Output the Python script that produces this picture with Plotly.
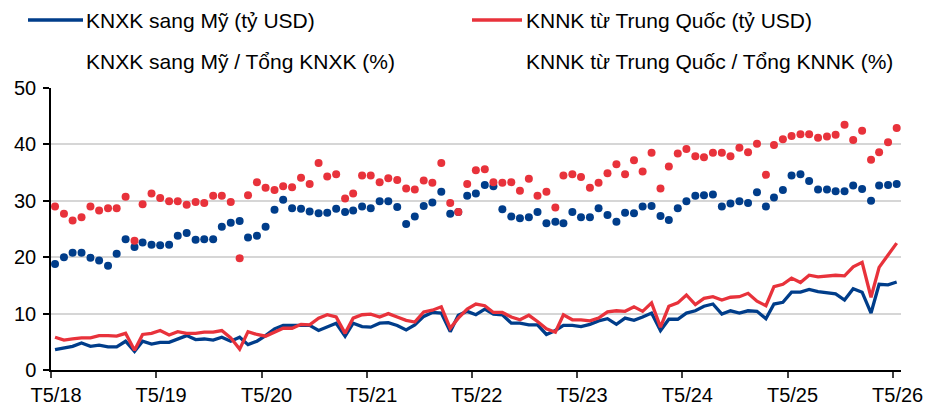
import pandas as pd
import plotly.graph_objects as go

# Monthly data, T5/2018 .. T5/2026
months = pd.date_range("2018-05-01", "2026-05-01", freq="MS") + pd.Timedelta(days=14)

# KNXK sang Mỹ (tỷ USD)
export_us = [3.6, 3.9, 4.2, 4.8, 4.2, 4.4, 4.1, 4.1, 5.1, 3.3, 5.1, 4.6, 4.9, 4.9,
             5.5, 6.1, 5.4, 5.5, 5.3, 5.8, 5.1, 5.8, 4.5, 5.1, 6.1, 7.3, 7.9,
             7.9, 7.9, 7.9, 7.0, 7.7, 8.3, 6.0, 8.3, 7.7, 7.6, 8.3, 8.4, 7.9, 7.1,
             8.0, 9.5, 10.2, 10.1, 6.8, 9.7, 10.4, 9.8, 10.8, 9.9, 9.8, 8.3, 8.3, 8.0,
             8.0, 6.3, 7.0, 7.9, 7.9, 7.7, 8.1, 8.7, 9.1, 8.1, 9.2, 8.8, 9.4, 10.1,
             7.0, 9.0, 9.0, 10.1, 10.5, 11.3, 11.7, 9.9, 10.5, 10.1, 10.5, 10.4, 9.1,
             11.7, 12.0, 13.8, 13.8, 14.3, 13.9, 13.7, 13.5, 12.4, 14.4, 13.8, 10.1, 15.2, 15.1, 15.6]

# KNNK từ Trung Quốc (tỷ USD)
import_cn = [5.8, 5.3, 5.5, 5.7, 5.7, 6.1, 6.1, 6.0, 6.5, 3.5, 6.3, 6.5, 7.0, 6.2,
             6.8, 6.5, 6.5, 6.7, 6.7, 7.0, 5.7, 3.7, 6.8, 6.3, 6.0, 6.7, 7.4,
             7.4, 8.1, 8.0, 9.2, 9.8, 9.4, 6.5, 9.2, 9.8, 9.9, 9.4, 10.0, 9.4, 8.8,
             8.5, 10.3, 10.6, 11.2, 7.4, 9.2, 10.8, 11.7, 11.4, 10.2, 10.2, 9.4, 8.9, 9.7,
             8.6, 7.3, 6.7, 9.8, 8.9, 8.9, 8.7, 9.2, 10.3, 10.5, 10.4, 11.2, 10.4, 11.9,
             7.6, 11.3, 11.9, 13.3, 11.6, 12.7, 13.0, 12.4, 12.9, 13.0, 13.6, 12.2, 11.4,
             14.8, 15.2, 16.3, 15.5, 16.8, 16.5, 16.6, 16.8, 16.7, 18.3, 19.1, 12.9, 18.2, 20.3, 22.5]

# KNXK sang Mỹ / Tổng KNXK (%)
export_us_share = [18.8, 20.0, 20.8, 20.8, 19.9, 19.4, 18.5, 20.6, 23.2, 21.8, 22.6, 22.2, 22.1, 22.2,
                   23.8, 24.3, 23.1, 23.2, 23.2, 25.4, 26.1, 26.4, 23.5, 23.8, 25.4, 28.4, 30.2,
                   28.7, 28.6, 28.1, 27.8, 27.9, 28.6, 28.0, 28.3, 29.0, 28.7, 29.9, 29.9, 28.9, 25.9,
                   27.2, 29.1, 29.7, 31.6, 27.7, 28.0, 30.9, 31.3, 32.8, 32.6, 28.5, 27.2, 26.9, 27.1,
                   28.0, 26.0, 26.3, 26.0, 28.0, 27.1, 27.1, 28.7, 27.5, 26.3, 27.9, 27.8, 29.0, 29.1,
                   27.3, 26.6, 28.7, 29.9, 30.9, 31.0, 31.1, 29.0, 29.5, 29.9, 29.6, 31.5, 29.0,
                   30.6, 31.9, 34.5, 34.7, 33.5, 32.0, 32.0, 31.7, 31.7, 32.7, 32.1, 30.0, 32.7, 32.8, 33.0]

# KNNK từ Trung Quốc / Tổng KNNK (%)
import_cn_share = [29.0, 27.7, 26.5, 27.1, 29.0, 28.3, 28.7, 28.7, 30.7, 22.9, 29.4, 31.3, 30.5, 29.9,
                   29.9, 29.3, 29.8, 29.6, 30.9, 30.9, 29.8, 19.8, 31.0, 33.3, 32.3, 31.9, 32.6,
                   32.4, 34.1, 33.0, 36.7, 34.3, 34.7, 30.4, 31.3, 34.5, 34.5, 33.3, 34.0, 33.7, 32.2,
                   32.0, 33.6, 33.2, 36.7, 29.6, 28.0, 33.0, 35.4, 35.6, 33.3, 33.2, 33.3, 31.8, 33.9,
                   30.9, 31.6, 28.8, 34.5, 34.7, 34.2, 32.3, 33.2, 34.9, 36.5, 34.7, 37.2, 35.2, 38.5,
                   32.2, 36.1, 38.4, 39.2, 37.9, 37.7, 38.5, 38.5, 37.9, 39.4, 38.6, 40.1, 34.6,
                   39.9, 40.9, 41.5, 41.8, 41.8, 41.2, 41.4, 41.7, 43.5, 40.8, 42.4, 37.3, 38.6, 40.4, 42.9]

tick_dates = [f"{y}-05-01" for y in range(2018, 2027)]
tick_labels = [f"T5/{str(y)[2:]}" for y in range(2018, 2027)]
y_ticks = [0, 10, 20, 30, 40, 50]

legend_labels = ["KNXK sang Mỹ (tỷ USD)", "KNNK từ Trung Quốc (tỷ USD)",
                 "KNXK sang Mỹ / Tổng KNXK (%)", "KNNK từ Trung Quốc / Tổng KNNK (%)"]

BLUE = "#003d8a"
RED = "#e8323b"
FONT = "Liberation Sans, Arial, sans-serif"
FS = 20
FS_LEG = 21

W, H = 926, 408
ML, MR, MT, MB = 51, 25, 88, 38
PW, PH = W - ML - MR, H - MT - MB


def px(x):
    return (x - ML) / PW


def py(y):
    return (H - MB - y) / PH


fig = go.Figure()
fig.add_trace(go.Scatter(x=months, y=export_us, mode="lines",
                         line=dict(color=BLUE, width=3.3), showlegend=False))
fig.add_trace(go.Scatter(x=months, y=import_cn, mode="lines",
                         line=dict(color=RED, width=3.3), showlegend=False))
fig.add_trace(go.Scatter(x=months, y=export_us_share, mode="markers",
                         marker=dict(color=BLUE, size=8), showlegend=False))
fig.add_trace(go.Scatter(x=months, y=import_cn_share, mode="markers",
                         marker=dict(color=RED, size=8), showlegend=False))

# manual legend
shapes = [
    dict(type="line", xref="paper", yref="paper", x0=px(28), x1=px(83), y0=py(20), y1=py(20),
         line=dict(color=BLUE, width=3.3)),
    dict(type="line", xref="paper", yref="paper", x0=px(472), x1=px(522), y0=py(20), y1=py(20),
         line=dict(color=RED, width=3.3)),
]
ann_pos = [(84, 20), (524, 20), (84, 61), (524, 61)]
annotations = []
for lab, (ax_, ay_) in zip(legend_labels, ann_pos):
    annotations.append(dict(text=lab, xref="paper", yref="paper", x=px(ax_), y=py(ay_),
                            xanchor="left", yanchor="middle", showarrow=False,
                            font=dict(size=FS_LEG, color="#000000", family=FONT)))

fig.update_layout(
    width=W, height=H,
    margin=dict(l=ML, r=MR, t=MT, b=MB, pad=0, autoexpand=False),
    paper_bgcolor="white", plot_bgcolor="white",
    font=dict(family=FONT, size=FS, color="#000000"),
    shapes=shapes, annotations=annotations,
    xaxis=dict(range=["2018-05-01", "2026-05-30"], tickvals=tick_dates, ticktext=tick_labels,
               showgrid=False, showline=True, linecolor="#000000", linewidth=1.5,
               ticks="outside", ticklen=6, tickcolor="#404040", tickwidth=1.5,
               ticklabelshift=5, zeroline=False, automargin=False),
    yaxis=dict(range=[0, 50], tickvals=y_ticks, showgrid=True, gridcolor="#d6d6d6", gridwidth=2,
               showline=True, linecolor="#000000", linewidth=1.5,
               ticks="outside", ticklen=6, tickcolor="#000000", tickwidth=1.5,
               zeroline=False, automargin=False, ticklabelstandoff=3),
)

fig.write_html("out.html", config={"displayModeBar": False},
               post_script="document.body.style.margin='0';document.body.style.padding='0';")
